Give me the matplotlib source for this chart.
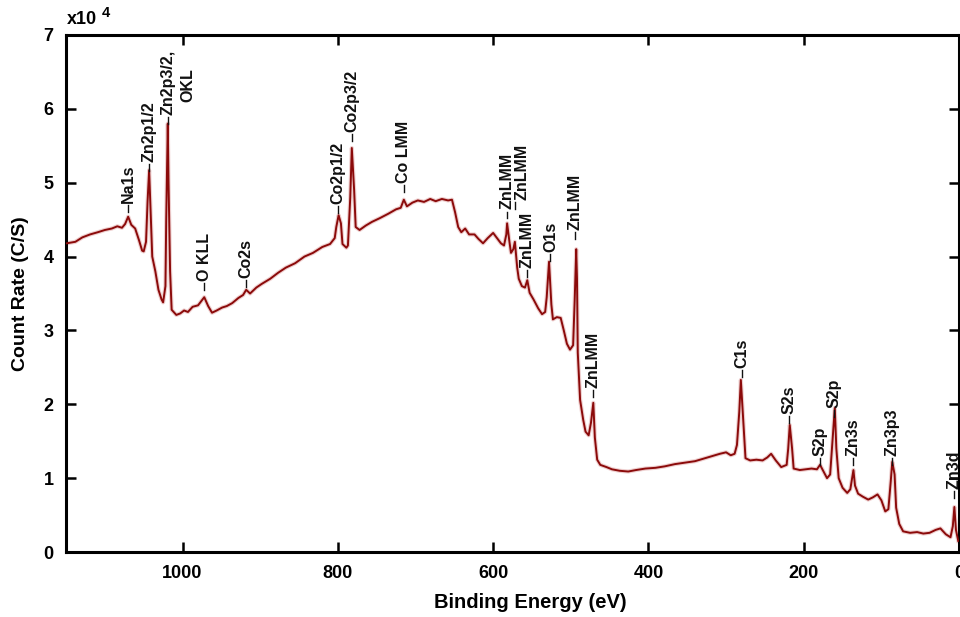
import numpy as np
import matplotlib
matplotlib.use("Agg")
import matplotlib.pyplot as plt

plt.rcParams['font.family'] = ['Liberation Sans', 'DejaVu Sans']

# survey spectrum, binding energy (eV) and count rate (x10^4 C/S)
energy = [1149, 1138, 1129, 1119, 1109, 1100, 1091, 1084, 1078, 1074, 1070, 1066, 1061, 1056, 1052,
          1050, 1047, 1045, 1043, 1041, 1039, 1035, 1031, 1027, 1025, 1022, 1021, 1019, 1018, 1016,
          1014, 1008, 1003, 998, 993, 987, 980, 972, 967, 962, 956, 949, 943, 936, 928,
          922, 918, 913, 905, 898, 887, 877, 867, 855, 843, 832, 820, 810, 804, 802,
          799, 796, 794, 789, 787, 784, 782, 779, 777, 772, 764, 756, 746, 735, 725,
          719, 715, 711, 704, 697, 689, 681, 674, 666, 658, 653, 649, 645, 641, 636,
          631, 624, 619, 613, 607, 600, 595, 590, 586, 583, 582, 579, 577, 574, 572,
          569, 567, 563, 559, 556, 553, 548, 542, 537, 533, 531, 528, 525, 523, 518,
          513, 509, 505, 501, 497, 495, 493, 492, 491, 488, 484, 481, 477, 474, 471,
          469, 466, 462, 454, 447, 437, 426, 416, 404, 391, 379, 366, 353, 340, 327,
          317, 308, 300, 294, 289, 286, 283, 281, 278, 275, 269, 261, 253, 247, 242,
          236, 229, 222, 220, 218, 215, 213, 205, 197, 190, 183, 179, 175, 170, 166,
          163, 160, 158, 155, 150, 144, 140, 136, 134, 130, 124, 117, 111, 105, 100,
          95, 91, 88, 86, 83, 81, 77, 72, 63, 54, 46, 38, 30, 24, 17,
          11, 8, 6, 4, 1]
counts = [4.18, 4.20, 4.26, 4.30, 4.33, 4.36, 4.38, 4.41, 4.39, 4.44, 4.54, 4.43, 4.38, 4.22, 4.08,
          4.07, 4.20, 4.75, 5.17, 4.60, 4.00, 3.80, 3.55, 3.42, 3.38, 3.60, 4.50, 5.80, 5.00, 3.80,
          3.28, 3.21, 3.23, 3.27, 3.25, 3.32, 3.34, 3.45, 3.33, 3.24, 3.27, 3.31, 3.33, 3.37, 3.44,
          3.48, 3.55, 3.50, 3.58, 3.63, 3.70, 3.78, 3.85, 3.91, 4.00, 4.05, 4.13, 4.17, 4.25, 4.40,
          4.56, 4.45, 4.17, 4.12, 4.15, 4.80, 5.47, 4.90, 4.40, 4.36, 4.42, 4.47, 4.52, 4.58, 4.64,
          4.66, 4.77, 4.68, 4.73, 4.76, 4.74, 4.78, 4.75, 4.78, 4.76, 4.77, 4.60, 4.40, 4.33, 4.38,
          4.30, 4.30, 4.24, 4.18, 4.25, 4.32, 4.25, 4.18, 4.15, 4.30, 4.45, 4.20, 4.05, 4.10, 4.20,
          3.85, 3.70, 3.60, 3.58, 3.68, 3.51, 3.42, 3.30, 3.22, 3.25, 3.45, 3.93, 3.35, 3.15, 3.18,
          3.17, 3.00, 2.82, 2.74, 2.80, 3.40, 4.10, 3.70, 2.70, 2.06, 1.79, 1.63, 1.58, 1.75, 2.02,
          1.55, 1.25, 1.18, 1.15, 1.12, 1.10, 1.09, 1.11, 1.13, 1.14, 1.16, 1.19, 1.21, 1.23, 1.27,
          1.30, 1.33, 1.35, 1.31, 1.33, 1.45, 1.90, 2.33, 1.80, 1.27, 1.24, 1.25, 1.24, 1.28, 1.33,
          1.24, 1.15, 1.18, 1.40, 1.72, 1.40, 1.13, 1.11, 1.12, 1.13, 1.12, 1.18, 1.10, 1.00, 1.05,
          1.50, 1.95, 1.40, 1.00, 0.87, 0.80, 0.85, 1.11, 0.90, 0.79, 0.75, 0.71, 0.74, 0.78, 0.70,
          0.55, 0.58, 0.95, 1.22, 1.05, 0.60, 0.38, 0.28, 0.26, 0.27, 0.25, 0.26, 0.30, 0.32, 0.24,
          0.20, 0.35, 0.61, 0.30, 0.15]

# peak labels: text, text position (eV), text bottom (x10^4), leader position (eV)
peak_names = ['Na1s', 'Zn2p1/2', 'Zn2p3/2,', 'OKL', 'O KLL', 'Co2s', 'Co2p1/2', 'Co2p3/2',
              'Co LMM', 'ZnLMM', 'ZnLMM', 'ZnLMM', 'O1s', 'ZnLMM', 'ZnLMM', 'C1s', 'S2s',
              'S2p', 'S2p', 'Zn3s', 'Zn3p3', 'Zn3d']
peak_text_e = [1070, 1043, 1019, 993, 972, 918, 800, 782, 715, 582, 563, 556, 526, 494, 471,
               280, 219, 179, 161, 137, 86, 6]
peak_text_y = [4.73, 5.28, 5.92, 6.09, 3.67, 3.71, 4.71, 5.69, 5.00, 4.64, 4.77, 3.85, 4.06,
               4.36, 2.22, 2.49, 1.87, 1.30, 1.95, 1.30, 1.30, 0.85]
peak_dash_e = [1070, 1043, 1019, None, 972, 918, 800, 782, 715, 582, 572, 556, 527, 494, 471,
               280, 219, 179, 161, 137, 86, 6]

fig = plt.figure(figsize=(9.6, 6.17), dpi=100)
ax = fig.add_axes([0.0688, 0.1053, 0.9302, 0.838])

ax.plot(energy, counts, color='#e3b0b0', lw=3.0, alpha=0.6, zorder=2)
ax.plot(energy, counts, color='#8b0a0a', lw=1.4, zorder=3)

for name, te, ty, de in zip(peak_names, peak_text_e, peak_text_y, peak_dash_e):
    ax.text(te, ty, name, rotation=90, ha='center', va='bottom',
            fontsize=11.5, fontweight='bold', color='#111111', zorder=4)
    if de is not None:
        ax.plot([de, de], [ty - 0.12, ty - 0.03], color='#111111', lw=1.0, zorder=4)

ax.set_xlim(1150, 0)
ax.set_ylim(0, 7)
ax.set_xticks([1000, 800, 600, 400, 200, 0])
ax.set_yticks(range(0, 8))

for sp in ax.spines.values():
    sp.set_linewidth(2.2)
ax.tick_params(direction='in', top=True, right=True, length=7, width=1.8,
               labelsize=13, pad=9)
for lab in ax.get_xticklabels() + ax.get_yticklabels():
    lab.set_fontweight('bold')

ax.set_xlabel('Binding Energy (eV)', fontsize=14.5, fontweight='bold')
ax.xaxis.set_label_coords(0.52, -0.08)
ax.set_ylabel('Count Rate (C/S)', fontsize=14, fontweight='bold')
ax.yaxis.set_label_coords(-0.042, 0.5)

fig.text(67 / 960, 1 - 19 / 617, 'x10', fontsize=13, fontweight='bold', va='center', ha='left')
fig.text(102 / 960, 1 - 13 / 617, '4', fontsize=10.5, fontweight='bold', va='center', ha='left')

fig.savefig('out.png', dpi=100)
